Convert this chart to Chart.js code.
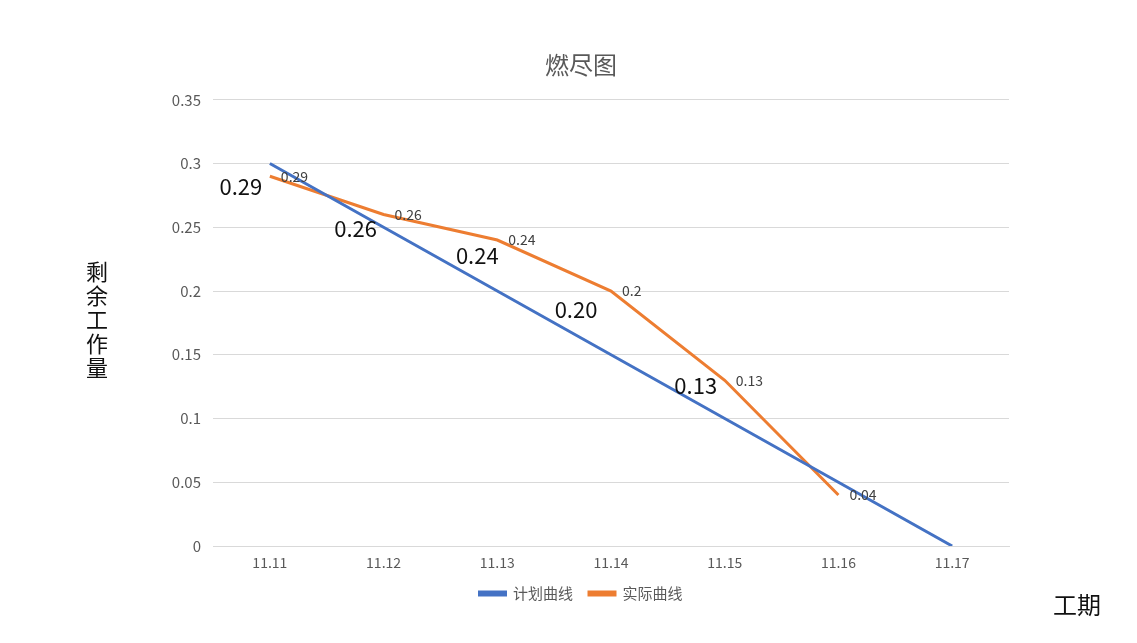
<!DOCTYPE html>
<html>
<head>
<meta charset="utf-8">
<script src="https://cdn.jsdelivr.net/npm/chart.js@4.4.0/dist/chart.umd.min.js"></script>
<style>
  html, body { margin: 0; padding: 0; background: #fff; }
  #wrap { width: 1137px; height: 643px; }
</style>
</head>
<body>
<div id="wrap"><canvas id="burn"></canvas></div>
<script>
// Dados do gráfico
const categories = ['11.11', '11.12', '11.13', '11.14', '11.15', '11.16', '11.17'];
const plannedValues = [0.3, 0.25, 0.2, 0.15, 0.1, 0.05, 0];
const actualValues = [0.29, 0.26, 0.24, 0.2, 0.13, 0.04];
const bigLabels = ['0.29', '0.26', '0.24', '0.20', '0.13'];
const yTitle = '剩余工作量';
const xTitle = '工期';

const FONT = '"Noto Sans CJK SC", "DejaVu Sans", sans-serif';
const GRAY = '#595959';

// deslocamento dos rótulos grandes em relação ao ponto
const bigOffsets = [[-29, 10], [-28, 14], [-20, 16], [-35, 19], [-29, 5]];

const labelsPlugin = {
  id: 'labels',
  afterDatasetsDraw(chart) {
    const { ctx, scales: { x, y } } = chart;
    ctx.save();
    // rótulos pequenos da série real
    ctx.font = '14px ' + FONT;
    ctx.fillStyle = '#404040';
    ctx.textAlign = 'left';
    ctx.textBaseline = 'middle';
    actualValues.forEach((v, i) => {
      ctx.fillText(String(v), x.getPixelForValue(i) + 11, y.getPixelForValue(v));
    });
    // rótulos grandes
    ctx.font = '22px ' + FONT;
    ctx.fillStyle = '#111';
    ctx.textAlign = 'center';
    bigLabels.forEach((t, i) => {
      const [dx, dy] = bigOffsets[i];
      ctx.fillText(t, x.getPixelForValue(i) + dx, y.getPixelForValue(actualValues[i]) + dy);
    });
    // título eixo Y (vertical, empilhado)
    ctx.font = '22px ' + FONT;
    ctx.fillStyle = '#111';
    const chars = yTitle.split('');
    const midY = (y.top + y.bottom) / 2 - 3;
    const step = 24;
    chars.forEach((c, i) => {
      ctx.fillText(c, 97, midY + (i - (chars.length - 1) / 2) * step);
    });
    // título eixo X
    ctx.font = '24px ' + FONT;
    ctx.fillText(xTitle, 1077, 605);
    ctx.restore();
  }
};

new Chart(document.getElementById('burn'), {
  type: 'line',
  data: {
    labels: categories,
    datasets: [
      { label: '计划曲线', data: plannedValues, borderColor: '#4472C4', backgroundColor: '#4472C4', borderWidth: 3, pointRadius: 0, tension: 0 },
      { label: '实际曲线', data: actualValues, borderColor: '#ED7D31', backgroundColor: '#ED7D31', borderWidth: 3, pointRadius: 0, tension: 0 }
    ]
  },
  options: {
    responsive: true,
    maintainAspectRatio: false,
    animation: false,
    layout: { padding: { left: 153, right: 128, top: 0, bottom: 32 } },
    plugins: {
      title: {
        display: true, text: '燃尽图', color: GRAY,
        font: { family: FONT, size: 24, weight: 'normal' },
        padding: { top: 50, bottom: 21 }
      },
      legend: {
        position: 'bottom',
        labels: {
          color: GRAY, font: { family: FONT, size: 15 },
          boxWidth: 26, boxHeight: 3, padding: 16
        }
      },
      tooltip: { enabled: false }
    },
    scales: {
      x: {
        offset: true,
        grid: { display: false },
        border: { color: '#d9d9d9' },
        ticks: { color: GRAY, font: { family: FONT, size: 14 }, padding: 0 },
        afterFit(s) { s.height = 24; }
      },
      y: {
        min: 0, max: 0.35,
        grid: { color: '#d9d9d9', drawTicks: false },
        border: { display: false },
        ticks: { stepSize: 0.05, color: GRAY, font: { family: FONT, size: 15 }, padding: 12,
          callback: v => String(Math.round(v * 100) / 100) },
        afterFit(s) { s.width = 60; }
      }
    }
  },
  plugins: [labelsPlugin]
});
</script>
</body>
</html>
